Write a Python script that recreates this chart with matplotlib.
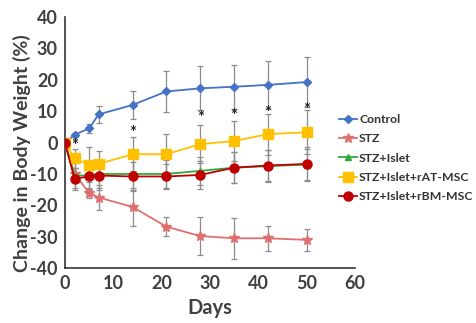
import matplotlib
matplotlib.use('Agg')
import matplotlib.pyplot as plt
import numpy as np

plt.rcParams['axes.unicode_minus'] = False
plt.rcParams['font.family'] = ['Lato', 'DejaVu Sans']

# data
days = [0, 2, 5, 7, 14, 21, 28, 35, 42, 50]

control = [0, 2.5, 4.5, 9, 12, 16.3, 17.3, 17.8, 18.4, 19.3]
control_err = [0, 0.5, 1.5, 2.8, 4.5, 6.5, 7, 7, 7.7, 8]

stz = [0, -10, -16, -17.5, -20.5, -26.8, -29.8, -30.5, -30.5, -31]
stz_err = [0, 2, 1.5, 4, 6, 3, 6, 6.5, 4, 3.5]

islet = [0, -10.5, -10.5, -10, -10, -10, -9, -8, -7.5, -7]
islet_err = [0, 4, 4.5, 4.5, 5, 4.5, 4.5, 5, 5, 5]

rat_msc = [0, -5, -7, -6.8, -3.7, -3.7, -0.5, 0.5, 2.7, 3.3]
rat_err = [0, 3, 5.5, 4, 5.5, 6.5, 6, 6.5, 6.5, 7]

rbm_msc = [0, -11.5, -10.8, -10.5, -10.8, -10.8, -10.3, -8, -7.3, -6.8]
rbm_err = [0, 3.5, 4, 4.5, 4.5, 4, 4.5, 5, 5, 5.5]

star_days = [2, 14, 28, 35, 42, 50]
star_y = [-1, 3.2, 7.7, 8.4, 9.5, 10.5]

txt = '#404040'
fig = plt.figure(figsize=(4.77, 3.23), dpi=100)
ax = fig.add_axes([0.136, 0.170, 0.608, 0.777])

series = [
    (control, control_err, 'Control', '#4472C4', 'D', 4),
    (stz, stz_err, 'STZ', '#E0706F', '*', 7),
    (islet, islet_err, 'STZ+Islet', '#2EAA3A', '^', 5),
    (rat_msc, rat_err, 'STZ+Islet+rAT-MSC', '#FFC000', 's', 6.5),
    (rbm_msc, rbm_err, 'STZ+Islet+rBM-MSC', '#C00000', 'o', 6.5),
]

for vals, err, name, col, mk, ms in series:
    ax.errorbar(days, vals, yerr=err, fmt='none', ecolor='#8c8c8c',
                elinewidth=0.9, capsize=2.5, capthick=0.9, zorder=1)
for vals, err, name, col, mk, ms in series:
    ax.plot(days, vals, color=col, marker=mk, markersize=ms, linewidth=1.3,
            label=name, zorder=3)

for d, y in zip(star_days, star_y):
    ax.text(d, y, '*', ha='center', va='center', fontsize=12,
            fontweight='bold', color='#222222')

ax.set_xlim(0, 60)
ax.set_ylim(-40, 40)
ax.set_xticks(np.arange(0, 61, 10))
ax.set_yticks(np.arange(-40, 41, 10))
ax.spines['top'].set_visible(False)
ax.spines['right'].set_visible(False)
for s in ['left', 'bottom']:
    ax.spines[s].set_color('#333333')
    ax.spines[s].set_linewidth(1.2)
ax.tick_params(length=0, labelsize=13, colors=txt, pad=5)
for lab in ax.get_xticklabels() + ax.get_yticklabels():
    lab.set_fontweight('bold')

ax.set_xlabel('Days', fontsize=14.5, fontweight='bold', color=txt, labelpad=4)
ax.set_ylabel('Change in Body Weight (%)', fontsize=14, fontweight='bold',
              color=txt)
ax.yaxis.set_label_coords(-0.118, 0.458)

leg = ax.legend(loc='upper left', bbox_to_anchor=(0.93, 0.633), frameon=False,
                fontsize=8.8, handlelength=1.4, handletextpad=0.2,
                labelspacing=0.68, borderaxespad=0)
for t in leg.get_texts():
    t.set_fontweight('bold')
    t.set_color('#333333')

fig.savefig('out.png', dpi=100)
